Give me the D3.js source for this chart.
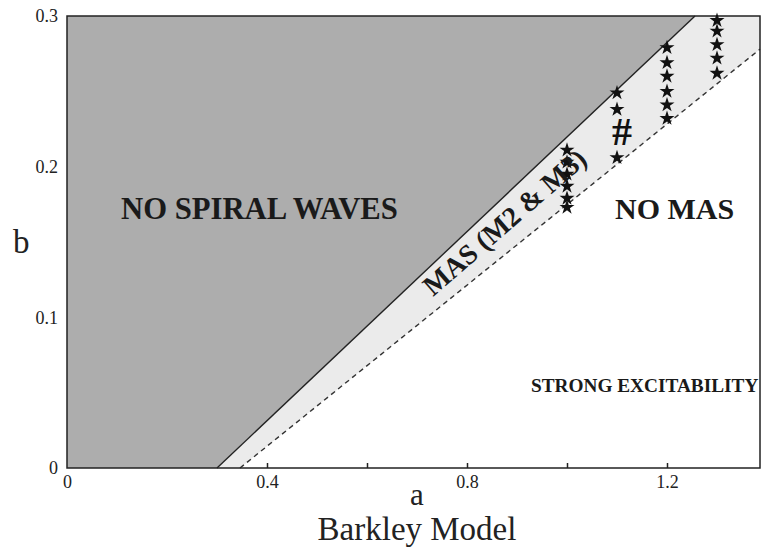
<!DOCTYPE html>
<html lang="en">
<head>
    <meta charset="UTF-8">
    <title>Barkley Model</title>
    <script src="https://d3js.org/d3.v7.min.js"></script>
    <style>
        body { margin: 0; background: #fff; }
        svg { display: block; font-family: "Liberation Serif", "DejaVu Serif", serif; }
        .tick text { font-size: 18px; fill: #222; }
    </style>
</head>
<body>
    <svg id="chart" width="767" height="550"></svg>

    <script>
        // axis ranges and ticks
        const aDomain = [0, 1.386];
        const bDomain = [0, 0.3];
        const xTicks = [0, 0.4, 0.6, 0.8, 1.0, 1.2];
        const xLabelled = [0, 0.4, 0.8, 1.2];
        const yTicks = [0, 0.1, 0.2, 0.3];

        // boundary lines (a, b)
        const solidA = [0.3, 1.256];
        const solidB = [0, 0.3];
        const dashedA = [0.346, 1.386];
        const dashedB = [0, 0.278];

        // star columns
        const starA = [1.0, 1.1, 1.2, 1.3];
        const starB = [
            [0.211, 0.203, 0.195, 0.187, 0.179, 0.173],
            [0.249, 0.238, 0.206],
            [0.279, 0.269, 0.260, 0.250, 0.241, 0.232],
            [0.297, 0.290, 0.281, 0.272, 0.262]
        ];
        const hashPoint = [1.1, 0.223];

        const svg = d3.select("#chart");
        const x = d3.scaleLinear().domain(aDomain).range([67, 760]);
        const y = d3.scaleLinear().domain(bDomain).range([468, 16]);
        const line = d3.line().x(d => x(d[0])).y(d => y(d[1]));

        const solid = solidA.map((a, i) => [a, solidB[i]]);
        const dashed = dashedA.map((a, i) => [a, dashedB[i]]);

        // light band between the two boundaries
        svg.append("path")
            .attr("d", line([solid[0], solid[1], [aDomain[1], bDomain[1]], dashed[1], dashed[0]]) + "Z")
            .attr("fill", "#ebebeb");

        // no spiral waves region
        svg.append("path")
            .attr("d", line([[0, 0], solid[0], solid[1], [0, bDomain[1]]]) + "Z")
            .attr("fill", "#adadad");

        svg.append("path")
            .attr("d", line(solid))
            .attr("fill", "none")
            .attr("stroke", "#222")
            .attr("stroke-width", 1.4);

        svg.append("path")
            .attr("d", line(dashed))
            .attr("fill", "none")
            .attr("stroke", "#333")
            .attr("stroke-width", 1.4)
            .attr("stroke-dasharray", "5,4");

        // frame
        svg.append("rect")
            .attr("x", x(aDomain[0])).attr("y", y(bDomain[1]))
            .attr("width", x(aDomain[1]) - x(aDomain[0]))
            .attr("height", y(bDomain[0]) - y(bDomain[1]))
            .attr("fill", "none")
            .attr("stroke", "#222")
            .attr("stroke-width", 1.5);

        // axes
        const xAxis = svg.append("g")
            .attr("transform", `translate(0,${y(0)})`)
            .call(d3.axisBottom(x).tickValues(xTicks)
                .tickSizeInner(-5).tickSizeOuter(0).tickPadding(7)
                .tickFormat(d => xLabelled.includes(d) ? (d === 0 ? "0" : d3.format(".1f")(d)) : ""))
            .attr("font-family", null).attr("font-size", null);
        xAxis.select(".domain").remove();
        xAxis.selectAll(".tick line").attr("stroke", "#222").attr("stroke-width", 1.5)
            .filter(d => d === 0).remove();

        const yAxis = svg.append("g")
            .attr("transform", `translate(${x(0)},0)`)
            .call(d3.axisLeft(y).tickValues(yTicks)
                .tickSize(0).tickPadding(9)
                .tickFormat(d => d === 0 ? "0" : d3.format(".1f")(d)))
            .attr("font-family", null).attr("font-size", null);
        yAxis.select(".domain").remove();

        // stars
        const star = d3.symbol().type(d3.symbolStar).size(70);
        const starPts = starA.flatMap((a, i) => starB[i].map(b => [a, b]));
        svg.append("g").selectAll("path")
            .data(starPts)
            .join("path")
            .attr("d", star)
            .attr("transform", d => `translate(${x(d[0])},${y(d[1])})`)
            .attr("fill", "#111");

        svg.append("text")
            .attr("x", x(hashPoint[0]) + 5).attr("y", y(hashPoint[1]) + 13)
            .attr("text-anchor", "middle")
            .attr("font-size", 40).attr("font-weight", "bold")
            .attr("fill", "#111")
            .text("#");

        // region labels
        const bold = (t, px, py, size) => svg.append("text")
            .attr("x", px).attr("y", py)
            .attr("font-size", size).attr("font-weight", "bold")
            .attr("fill", "#1a1a1a")
            .text(t);

        bold("NO SPIRAL WAVES", 121, 219, 30.7);
        bold("NO MAS", 615, 219, 30);
        bold("STRONG EXCITABILITY", 531, 392, 19.3);

        svg.append("text")
            .attr("transform", "translate(433,297) rotate(-41)")
            .attr("font-size", 28).attr("font-weight", "bold")
            .attr("fill", "#1a1a1a")
            .text("MAS (M2 & M3)");

        // axis titles
        svg.append("text")
            .attr("x", 417).attr("y", 505)
            .attr("text-anchor", "middle")
            .attr("font-size", 31).attr("fill", "#222")
            .text("a");

        svg.append("text")
            .attr("x", 417).attr("y", 540)
            .attr("text-anchor", "middle")
            .attr("font-size", 33).attr("fill", "#222")
            .text("Barkley Model");

        svg.append("text")
            .attr("x", 13).attr("y", 253)
            .attr("font-size", 33).attr("fill", "#222")
            .text("b");
    </script>
</body>
</html>
